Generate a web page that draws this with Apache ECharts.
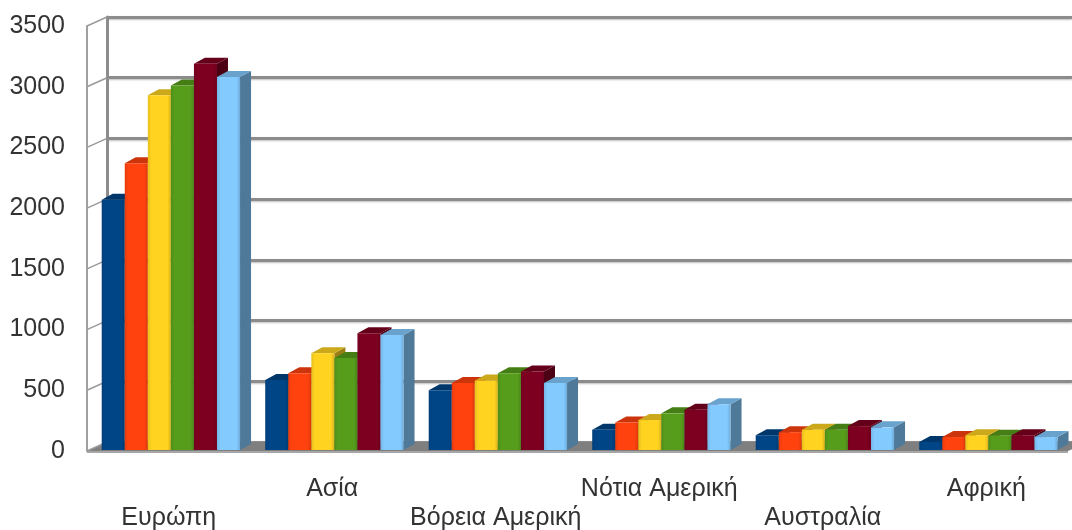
<!DOCTYPE html>
<html>
<head>
<meta charset="utf-8">
<script src="https://cdn.jsdelivr.net/npm/echarts@6/dist/echarts.min.js"></script>
<style>
  html, body { margin: 0; padding: 0; background: #fff; }
  #main { width: 1072px; height: 530px; }
</style>
</head>
<body>
<div id="main"></div>
<script>
// κατηγορίες και τιμές
const categories = ['Ευρώπη', 'Ασία', 'Βόρεια Αμερική', 'Νότια Αμερική', 'Αυστραλία', 'Αφρική'];
const series1 = [2070, 585, 500, 175, 130, 75];
const series2 = [2370, 640, 560, 235, 155, 115];
const series3 = [2930, 805, 580, 255, 175, 130];
const series4 = [3010, 765, 640, 310, 175, 125];
const series5 = [3190, 970, 655, 340, 205, 130];
const series6 = [3080, 955, 560, 385, 195, 115];
const yTicks = [0, 500, 1000, 1500, 2000, 2500, 3000, 3500];

const allSeries = [series1, series2, series3, series4, series5, series6];
const colors = ['#004586', '#ff420e', '#ffd320', '#579d1c', '#7e0021', '#83caff'];

// βάθος τοίχων / μπάρας
const WALL_DX = 20, WALL_DY = -9;
const BAR_DX = 11, BAR_DY = -6;

function shade(hex, f) {
  const n = parseInt(hex.slice(1), 16);
  const r = Math.round(((n >> 16) & 255) * f);
  const g = Math.round(((n >> 8) & 255) * f);
  const b = Math.round((n & 255) * f);
  return 'rgb(' + r + ',' + g + ',' + b + ')';
}

function barRenderer(k) {
  const color = colors[k];
  return function (params, api) {
    const idx = api.value(0);
    const base = api.coord([idx, 0]);
    const top = api.coord([idx, api.value(1)]);
    const catW = api.size([1, 0])[0];
    const bw = catW * 0.141;
    const x0 = base[0] - catW / 2 + catW * 0.09 + k * bw;
    const x1 = x0 + bw;
    const yt = top[1], yb = base[1] - 1;
    return {
      type: 'group',
      children: [
        {
          type: 'polygon',
          shape: { points: [[x1, yb], [x1, yt], [x1 + BAR_DX, yt + BAR_DY], [x1 + BAR_DX, yb + BAR_DY]] },
          style: { fill: shade(color, 0.6) }
        },
        {
          type: 'polygon',
          shape: { points: [[x0, yt], [x1, yt], [x1 + BAR_DX, yt + BAR_DY], [x0 + BAR_DX, yt + BAR_DY]] },
          style: { fill: shade(color, 0.8) }
        },
        {
          type: 'rect',
          shape: { x: x0, y: yt, width: bw, height: yb - yt },
          style: {
            fill: new echarts.graphic.LinearGradient(0, 0, 1, 0, [
              { offset: 0, color: shade(color, 0.9) },
              { offset: 0.15, color: color },
              { offset: 0.85, color: color },
              { offset: 1, color: shade(color, 0.85) }
            ])
          }
        }
      ]
    };
  };
}

const chart = echarts.init(document.getElementById('main'), null, { renderer: 'canvas' });

const seriesList = [
  // δάπεδο
  {
    type: 'custom',
    xAxisIndex: 0, yAxisIndex: 0,
    silent: true, z: 1,
    data: [[0, 0]],
    renderItem: function (params, api) {
      const cs = params.coordSys;
      const yb = cs.y + cs.height;
      return {
        type: 'group',
        children: [
          {
            type: 'polygon',
            shape: { points: [[cs.x, yb], [cs.x + cs.width, yb], [cs.x + cs.width + WALL_DX, yb + WALL_DY], [cs.x + WALL_DX, yb + WALL_DY]] },
            style: { fill: '#7f7f7f' }
          },
          {
            type: 'line',
            shape: { x1: cs.x, y1: yb + 1, x2: cs.x + cs.width, y2: yb + 1 },
            style: { stroke: '#a6a6a6', lineWidth: 2 }
          }
        ]
      };
    }
  },
  // πλευρικός τοίχος
  {
    type: 'custom',
    xAxisIndex: 0, yAxisIndex: 0,
    silent: true, z: 1,
    data: yTicks.map(v => [0, v]),
    renderItem: function (params, api) {
      const cs = params.coordSys;
      const p = api.coord([0, api.value(1)]);
      return {
        type: 'line',
        shape: { x1: cs.x, y1: p[1], x2: cs.x + WALL_DX, y2: p[1] + WALL_DY },
        style: { stroke: '#9a9a9a', lineWidth: 1.5 }
      };
    }
  }
];

allSeries.forEach(function (vals, k) {
  seriesList.push({
    type: 'custom',
    name: 'S' + (k + 1),
    xAxisIndex: 0, yAxisIndex: 0,
    z: 3,
    data: vals.map((v, i) => [i, v]),
    renderItem: barRenderer(k)
  });
});

const option = {
  animation: false,
  backgroundColor: '#ffffff',
  grid: [
    { left: 87, right: 4, top: 26, bottom: 79, containLabel: false, outerBoundsMode: 'none' },
    { left: 107, right: 0, top: 17, bottom: 88, containLabel: false, outerBoundsMode: 'none' }
  ],
  xAxis: [
    {
      type: 'category',
      gridIndex: 0,
      data: categories,
      axisLine: { show: false },
      axisTick: { show: false },
      axisLabel: {
        interval: 0,
        margin: 24,
        fontFamily: 'Liberation Sans, Arial, sans-serif',
        fontSize: 25,
        lineHeight: 29,
        color: '#333333',
        formatter: function (v, i) { return i % 2 === 0 ? '\n' + v : v; }
      }
    },
    {
      type: 'category',
      gridIndex: 1,
      data: categories,
      show: false
    }
  ],
  yAxis: [
    {
      type: 'value',
      gridIndex: 0,
      min: 0, max: 3500, interval: 500,
      axisLine: { show: true, lineStyle: { color: '#a0a0a0', width: 2 } },
      axisTick: { show: false },
      splitLine: { show: false },
      axisLabel: {
        margin: 22,
        fontFamily: 'Liberation Sans, Arial, sans-serif',
        fontSize: 25,
        color: '#333333',
        formatter: function (v) { return String(v); }
      }
    },
    {
      type: 'value',
      gridIndex: 1,
      min: 0, max: 3500, interval: 500,
      axisLine: { show: true, lineStyle: { color: '#8c8c8c', width: 3 } },
      axisTick: { show: false },
      axisLabel: { show: false },
      splitLine: {
        show: true,
        lineStyle: { color: '#8c8c8c', width: 3, shadowColor: 'rgba(0,0,0,0.25)', shadowBlur: 2, shadowOffsetY: 1 }
      }
    }
  ],
  series: seriesList
};

chart.setOption(option);
</script>
</body>
</html>
